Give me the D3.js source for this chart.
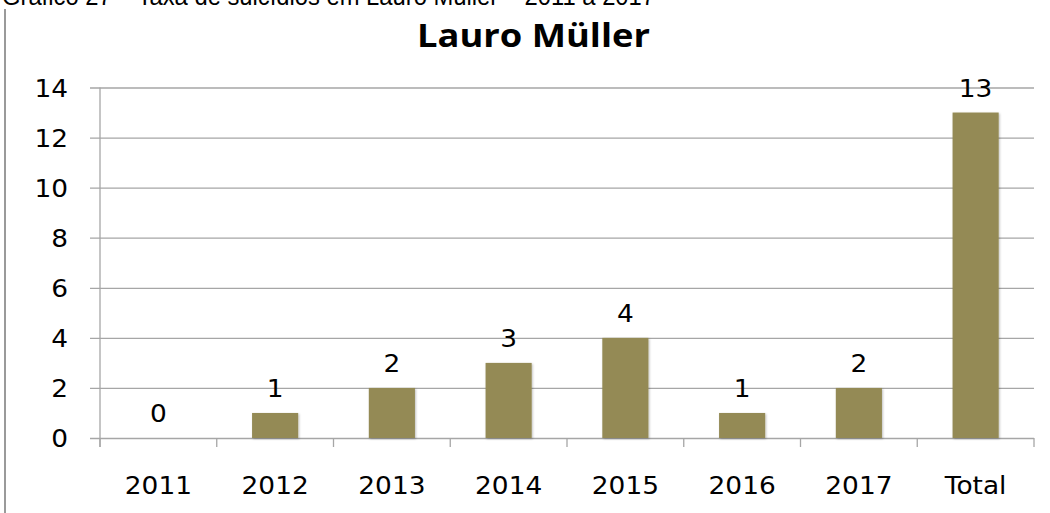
<!DOCTYPE html>
<html>
<head>
<meta charset="utf-8">
<script src="https://cdn.jsdelivr.net/npm/d3@7"></script>
<style>
  body { margin: 0; background: #fff; }
  svg { display: block; }
</style>
</head>
<body>
<svg width="1050" height="513"></svg>
<script>
var categories = ["2011", "2012", "2013", "2014", "2015", "2016", "2017", "Total"];
var values = [0, 1, 2, 3, 4, 1, 2, 13];
var yTicks = [0, 2, 4, 6, 8, 10, 12, 14];
var chartTitle = "Lauro Müller";
var caption = "Gráfico 27 – Taxa de suicídios em Lauro Müller – 2011 a 2017";

var svg = d3.select("svg"),
    width = +svg.attr("width"),
    height = +svg.attr("height");

// plot area (window.top is reserved, so names are prefixed)
var plotLeft = 100, plotRight = 1034, plotTop = 87.5, plotBottom = 438;

var x = d3.scaleBand()
    .domain(categories)
    .range([plotLeft, plotRight])
    .paddingInner(0.605)
    .paddingOuter(0.3025);

var y = d3.scaleLinear()
    .domain([0, 14])
    .range([plotBottom, plotTop]);

// the source picture is a bit wider than tall, stretch the label glyphs
function stretch(sel) {
    sel.each(function() {
        var w = this.getComputedTextLength();
        d3.select(this)
            .attr("textLength", w * 1.1)
            .attr("lengthAdjust", "spacingAndGlyphs");
    });
}

var defs = svg.append("defs");
var shadow = defs.append("filter").attr("id", "shadow")
    .attr("x", "-20%").attr("y", "-20%").attr("width", "140%").attr("height", "140%");
shadow.append("feDropShadow")
    .attr("dx", 1).attr("dy", 1).attr("stdDeviation", 1)
    .attr("flood-color", "#000").attr("flood-opacity", 0.25);

// caption cut off at top of the page
svg.append("text")
    .attr("x", 2)
    .attr("y", 5)
    .attr("textLength", 653)
    .attr("lengthAdjust", "spacingAndGlyphs")
    .style("font-family", "'Liberation Sans', Arial, sans-serif")
    .style("font-size", "26px")
    .attr("fill", "#000")
    .text(caption);

// left frame line
svg.append("line")
    .attr("x1", 5).attr("x2", 5)
    .attr("y1", 9).attr("y2", height)
    .attr("stroke", "#9a9a9a")
    .attr("stroke-width", 2);

// title
svg.append("text")
    .attr("x", 417)
    .attr("y", 47)
    .attr("textLength", 233)
    .attr("lengthAdjust", "spacingAndGlyphs")
    .style("font-family", "'Open Sans', sans-serif")
    .style("font-weight", "bold")
    .style("font-size", "32px")
    .attr("fill", "#000")
    .text(chartTitle);

// gridlines + y labels
var yAxis = svg.append("g")
    .attr("transform", "translate(" + plotRight + ",0)")
    .call(d3.axisLeft(y).tickValues(yTicks).tickSize(plotRight - 90).tickPadding(22).tickFormat(d3.format("d")));

yAxis.select(".domain").remove();
yAxis.selectAll(".tick line")
    .attr("stroke", "#a6a6a6")
    .attr("stroke-width", 1.3);
yAxis.selectAll(".tick text")
    .attr("fill", "#000")
    .attr("dy", "0.36em")
    .style("font-family", "'DejaVu Sans', Verdana, sans-serif")
    .style("font-size", "24px")
    .call(stretch);

// vertical axis line
svg.append("line")
    .attr("x1", plotLeft).attr("x2", plotLeft)
    .attr("y1", plotTop).attr("y2", plotBottom + 9)
    .attr("stroke", "#a6a6a6")
    .attr("stroke-width", 1.3);

// category boundary ticks
var bounds = d3.range(categories.length + 1).map(function(i) { return plotLeft + i * x.step(); });
svg.append("g").selectAll("line")
    .data(bounds)
    .enter().append("line")
        .attr("x1", function(d) { return d; })
        .attr("x2", function(d) { return d; })
        .attr("y1", plotBottom)
        .attr("y2", plotBottom + 9)
        .attr("stroke", "#a6a6a6")
        .attr("stroke-width", 1.3);

// x labels
var xAxis = svg.append("g")
    .attr("transform", "translate(0," + plotBottom + ")")
    .call(d3.axisBottom(x).tickSize(0).tickPadding(39));
xAxis.select(".domain").remove();
xAxis.selectAll(".tick text")
    .attr("fill", "#000")
    .style("font-family", "'DejaVu Sans', Verdana, sans-serif")
    .style("font-size", "24px")
    .call(stretch);

// bars
svg.append("g").selectAll("rect")
    .data(values)
    .enter().append("rect")
        .attr("x", function(d, i) { return x(categories[i]); })
        .attr("y", function(d) { return y(d); })
        .attr("width", x.bandwidth())
        .attr("height", function(d) { return plotBottom - y(d); })
        .attr("fill", "#948a54")
        .attr("filter", "url(#shadow)");

// value labels
svg.append("g").selectAll("text")
    .data(values)
    .enter().append("text")
        .attr("x", function(d, i) { return x(categories[i]) + x.bandwidth() / 2; })
        .attr("y", function(d) { return y(d) - 16; })
        .attr("text-anchor", "middle")
        .attr("fill", "#000")
        .style("font-family", "'DejaVu Sans', Verdana, sans-serif")
        .style("font-size", "24px")
        .text(function(d) { return d; })
        .call(stretch);
</script>
</body>
</html>
